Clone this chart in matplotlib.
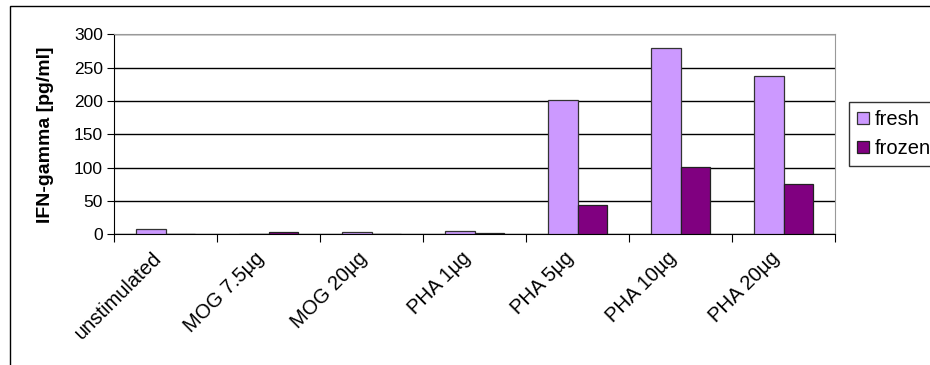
import numpy as np
import matplotlib.pyplot as plt
import matplotlib.transforms as mtransforms
from matplotlib.patches import Rectangle

categories = ['unstimulated', 'MOG 7.5µg', 'MOG 20µg', 'PHA 1µg',
              'PHA 5µg', 'PHA 10µg', 'PHA 20µg']
fresh = [7.5, 0, 3, 4.5, 201, 280, 238]
frozen = [0, 3, 0, 1.5, 44, 101, 75]
y_ticks = [0, 50, 100, 150, 200, 250, 300]

plt.rcParams['font.family'] = ['Liberation Sans', 'DejaVu Sans']

W, H = 930, 365
fig = plt.figure(figsize=(W / 100, H / 100), dpi=100)

# outer chart-area border (only left/top visible in the reference)
fig.patches.append(Rectangle((10 / W, -0.1), 1.2, 1 - 6 / H + 0.1,
                             transform=fig.transFigure, fill=False,
                             edgecolor='black', linewidth=1.0))

ax = fig.add_axes([114 / W, (H - 234.3) / H, 721 / W, 200 / H])

x = np.arange(len(categories))
w = 0.285
ax.bar(x - w / 2, fresh, w, color='#CC99FF', edgecolor='#333333', linewidth=0.9,
       label='fresh', zorder=3)
ax.bar(x + w / 2, frozen, w, color='#800080', edgecolor='#222222', linewidth=0.9,
       label='frozen', zorder=3)

ax.set_xlim(-0.5, len(categories) - 0.5)
ax.set_ylim(0, 300)
ax.set_yticks(y_ticks)
ax.tick_params(axis='y', labelsize=12.5, length=5, direction='out', colors='black',
               pad=3)
ax.yaxis.grid(True, color='black', linewidth=1.0, zorder=0)
ax.set_axisbelow(True)

ax.set_xticks(np.arange(len(categories) + 1) - 0.5, minor=False)
ax.set_xticklabels([])
ax.tick_params(axis='x', length=6, direction='out')
ax.set_xticks(x, minor=True)
ax.set_xticklabels(categories, minor=True, rotation=45, ha='right',
                   rotation_mode='anchor', fontsize=14.5)
ax.tick_params(axis='x', which='minor', length=0, pad=10)
shift = mtransforms.ScaledTranslation(-14 / 100, 0, fig.dpi_scale_trans)
for lbl in ax.xaxis.get_minorticklabels():
    lbl.set_transform(lbl.get_transform() + shift)

for s in ['top', 'right']:
    ax.spines[s].set_color('#999999')
for s in ['left', 'bottom']:
    ax.spines[s].set_color('black')

ax.set_ylabel('IFN-gamma [pg/ml]', fontsize=14, fontweight='bold', labelpad=14)

leg = ax.legend(loc='upper left', bbox_to_anchor=(849 / W, (H - 102) / H),
                bbox_transform=fig.transFigure, fontsize=14.5, frameon=True,
                fancybox=False, edgecolor='black', handlelength=0.6,
                handleheight=0.6, handletextpad=0.3, borderpad=0.4,
                labelspacing=0.5, borderaxespad=0)
leg.get_frame().set_linewidth(1.0)

fig.savefig('out.png', dpi=100)
